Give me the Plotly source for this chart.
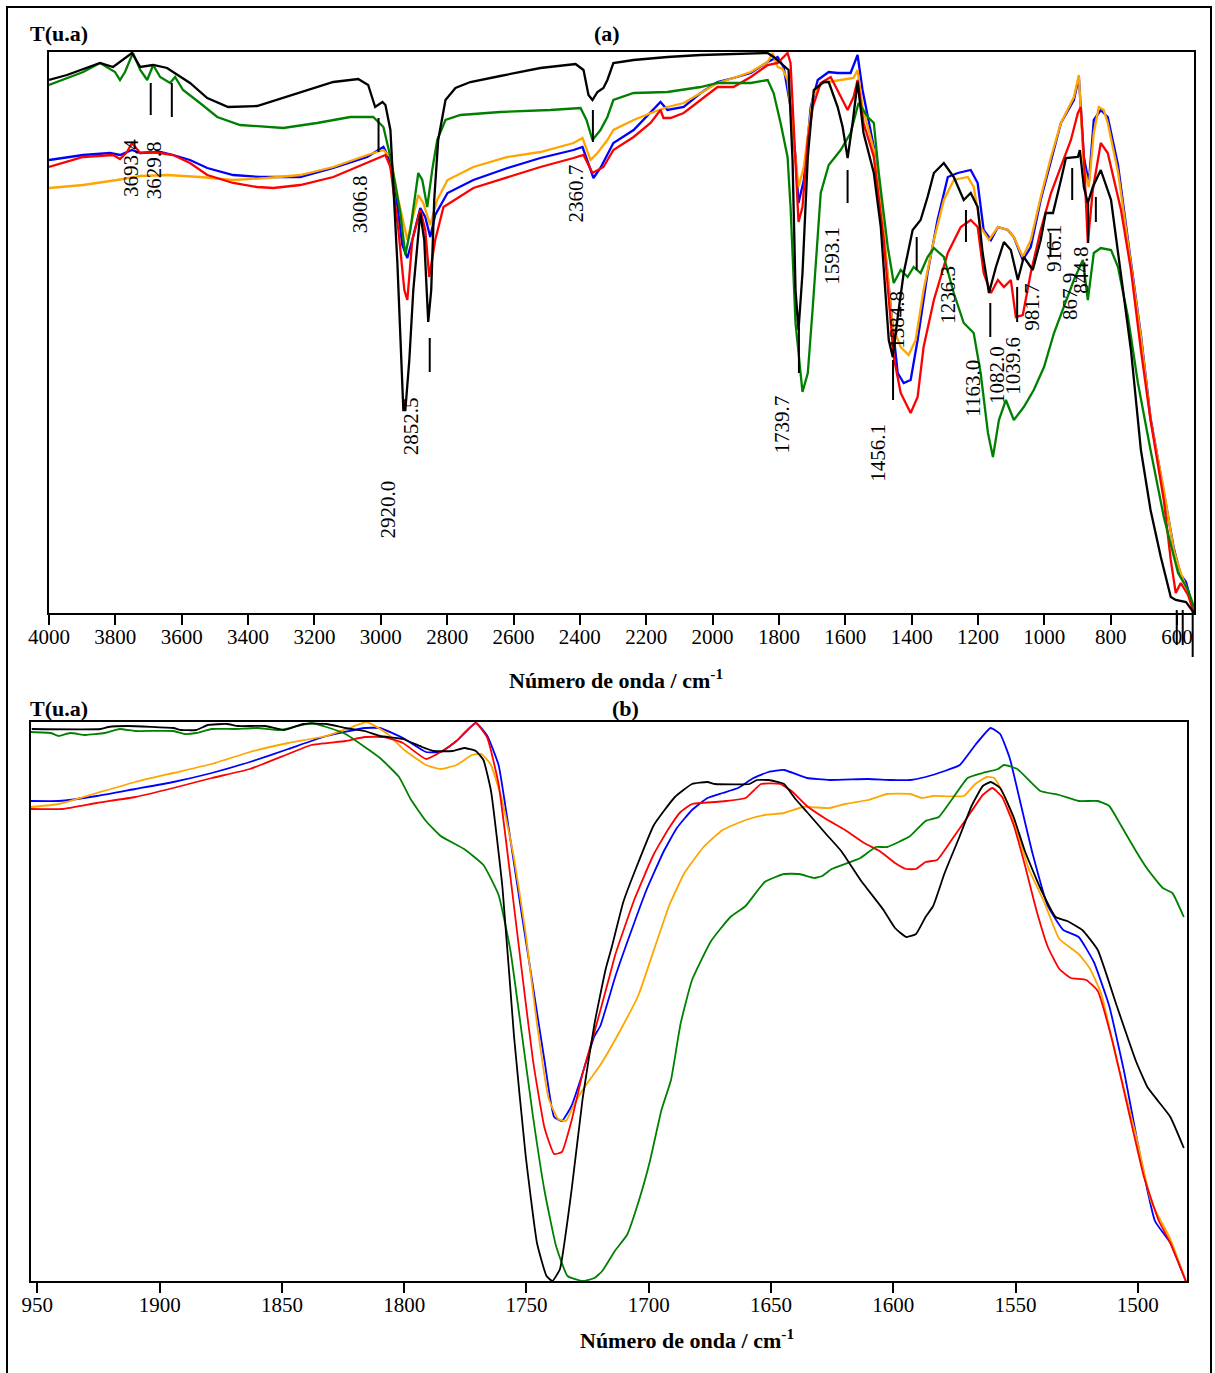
import plotly.graph_objects as go

# ---------------- Panel (a) data: wavenumber (cm-1) and T (arbitrary units) ----------------
a_black_wn = [4000, 3946, 3846, 3807, 3750, 3725, 3686, 3644, 3626, 3575, 3523, 3460, 3373, 3243, 3143, 3068, 3038, 3017, 2995, 2986, 2971, 2950, 2932, 2926, 2914, 2902, 2881, 2869, 2857, 2848, 2839, 2827, 2805, 2775, 2730, 2640, 2519, 2413, 2389, 2374, 2362, 2347, 2329, 2317, 2299, 2238, 2136, 2036, 1916, 1834, 1816, 1789, 1771, 1759, 1750, 1741, 1729, 1713, 1695, 1665, 1650, 1623, 1608, 1593, 1578, 1563, 1545, 1514, 1493, 1469, 1457, 1442, 1424, 1397, 1373, 1352, 1333, 1303, 1273, 1243, 1222, 1201, 1186, 1167, 1146, 1122, 1101, 1080, 1062, 1035, 1011, 996, 974, 950, 935, 899, 893, 881, 869, 854, 830, 799, 769, 739, 709, 680, 649, 619, 604, 573, 549]
a_black_t = [533, 538, 550, 546, 560, 546, 548, 545, 541, 530, 515, 506, 507, 521, 531, 534, 528, 506, 511, 508, 483, 350, 203, 203, 253, 323, 400, 373, 291, 323, 413, 473, 513, 525, 531, 537, 545, 549, 543, 518, 513, 521, 525, 533, 550, 553, 556, 558, 559, 560, 556, 548, 543, 453, 323, 283, 340, 456, 523, 531, 531, 506, 486, 455, 490, 531, 480, 440, 386, 273, 256, 296, 340, 383, 393, 416, 440, 450, 436, 413, 420, 406, 360, 320, 346, 371, 363, 333, 356, 343, 373, 400, 400, 433, 455, 456, 463, 426, 410, 426, 443, 413, 336, 263, 163, 103, 56, 16, 13, 11, 0]

a_green_wn = [4000, 3897, 3846, 3801, 3786, 3771, 3747, 3725, 3704, 3686, 3665, 3635, 3620, 3596, 3545, 3493, 3424, 3294, 3192, 3092, 3023, 2992, 2971, 2941, 2926, 2911, 2887, 2875, 2860, 2845, 2830, 2805, 2760, 2640, 2489, 2398, 2380, 2362, 2338, 2317, 2299, 2238, 2136, 2036, 1985, 1885, 1834, 1816, 1795, 1774, 1765, 1750, 1729, 1713, 1698, 1674, 1650, 1614, 1584, 1560, 1532, 1514, 1499, 1472, 1454, 1433, 1412, 1394, 1373, 1352, 1333, 1303, 1273, 1243, 1213, 1192, 1170, 1155, 1137, 1116, 1092, 1062, 1032, 1001, 971, 941, 911, 884, 869, 851, 830, 799, 778, 748, 718, 680, 640, 597, 567, 549]
a_green_t = [528, 541, 550, 541, 533, 541, 560, 543, 533, 548, 536, 530, 536, 523, 510, 496, 488, 485, 490, 496, 496, 486, 456, 400, 358, 383, 440, 433, 406, 443, 473, 493, 498, 501, 503, 505, 493, 473, 483, 496, 513, 520, 521, 526, 530, 530, 533, 520, 490, 456, 406, 290, 221, 240, 306, 420, 448, 463, 480, 510, 496, 490, 440, 366, 330, 343, 336, 346, 340, 356, 365, 356, 320, 290, 280, 240, 180, 156, 193, 213, 193, 206, 223, 246, 280, 306, 333, 353, 313, 360, 365, 363, 346, 296, 230, 163, 96, 40, 23, 6]

a_blue_wn = [4000, 3897, 3816, 3786, 3750, 3725, 3665, 3626, 3575, 3523, 3445, 3364, 3243, 3143, 3041, 2992, 2977, 2956, 2935, 2920, 2905, 2881, 2866, 2851, 2836, 2799, 2721, 2618, 2519, 2419, 2392, 2374, 2359, 2338, 2299, 2238, 2187, 2157, 2136, 2087, 2036, 1985, 1937, 1885, 1834, 1804, 1786, 1765, 1750, 1741, 1725, 1704, 1683, 1650, 1623, 1584, 1563, 1548, 1514, 1493, 1463, 1442, 1424, 1403, 1382, 1352, 1322, 1291, 1261, 1222, 1201, 1183, 1161, 1140, 1110, 1092, 1065, 1041, 1011, 980, 950, 911, 896, 881, 866, 851, 830, 809, 778, 748, 709, 680, 640, 610, 589, 573, 549]
a_blue_t = [453, 458, 460, 458, 463, 460, 461, 458, 453, 445, 438, 436, 436, 445, 456, 466, 456, 423, 368, 355, 373, 405, 396, 376, 398, 420, 433, 445, 455, 463, 466, 448, 435, 445, 470, 483, 500, 511, 503, 506, 520, 531, 535, 540, 551, 556, 546, 506, 456, 410, 433, 506, 533, 541, 540, 540, 558, 523, 466, 406, 306, 240, 230, 233, 273, 340, 393, 436, 440, 443, 430, 383, 373, 386, 383, 376, 353, 366, 413, 453, 490, 513, 536, 456, 430, 493, 503, 496, 448, 373, 278, 195, 123, 65, 38, 31, 0]

a_red_wn = [4000, 3897, 3807, 3786, 3765, 3750, 3725, 3695, 3665, 3626, 3575, 3523, 3445, 3373, 3324, 3243, 3143, 3041, 2986, 2971, 2947, 2929, 2920, 2905, 2881, 2866, 2854, 2836, 2811, 2721, 2618, 2519, 2419, 2389, 2362, 2329, 2299, 2238, 2187, 2157, 2148, 2127, 2087, 2036, 1985, 1937, 1885, 1834, 1804, 1786, 1774, 1765, 1756, 1741, 1729, 1713, 1698, 1674, 1644, 1623, 1593, 1575, 1563, 1545, 1514, 1484, 1454, 1433, 1403, 1382, 1364, 1333, 1291, 1252, 1222, 1201, 1183, 1161, 1140, 1122, 1101, 1086, 1065, 1041, 1011, 980, 950, 920, 899, 890, 881, 869, 854, 830, 809, 769, 739, 709, 680, 640, 619, 604, 589, 567, 549]
a_red_t = [446, 456, 458, 454, 461, 470, 460, 461, 460, 458, 450, 438, 430, 426, 425, 428, 436, 450, 458, 446, 383, 323, 313, 373, 403, 383, 336, 373, 406, 425, 436, 446, 455, 458, 440, 446, 463, 476, 490, 503, 495, 495, 500, 513, 526, 526, 536, 548, 550, 556, 560, 550, 490, 391, 406, 473, 506, 530, 536, 523, 503, 516, 533, 490, 456, 373, 256, 220, 200, 216, 266, 313, 360, 386, 393, 386, 340, 320, 333, 326, 333, 296, 298, 340, 383, 420, 446, 473, 500, 506, 456, 370, 423, 470, 460, 403, 343, 263, 193, 113, 53, 20, 30, 18, 0]

a_orange_wn = [4000, 3897, 3795, 3725, 3644, 3545, 3445, 3342, 3243, 3143, 3041, 2992, 2971, 2947, 2920, 2905, 2887, 2872, 2851, 2830, 2799, 2721, 2618, 2519, 2419, 2392, 2368, 2347, 2317, 2299, 2238, 2178, 2136, 2087, 2036, 1985, 1937, 1885, 1834, 1819, 1804, 1789, 1774, 1756, 1741, 1725, 1698, 1674, 1650, 1614, 1575, 1563, 1548, 1514, 1484, 1457, 1433, 1409, 1388, 1364, 1333, 1303, 1273, 1231, 1213, 1192, 1167, 1140, 1110, 1092, 1065, 1041, 1011, 980, 950, 911, 896, 881, 866, 851, 836, 821, 809, 778, 748, 709, 680, 640, 610, 589, 567, 549]
a_orange_t = [425, 428, 433, 437, 438, 436, 433, 435, 438, 446, 458, 463, 456, 413, 373, 393, 418, 410, 388, 413, 433, 446, 456, 461, 470, 475, 453, 460, 473, 483, 493, 501, 506, 510, 520, 530, 535, 541, 551, 560, 546, 544, 533, 473, 426, 446, 516, 530, 531, 533, 535, 543, 506, 463, 380, 286, 266, 258, 273, 323, 373, 413, 433, 436, 426, 386, 373, 386, 383, 376, 356, 373, 416, 456, 490, 516, 538, 446, 426, 480, 506, 503, 490, 441, 370, 276, 193, 123, 63, 40, 21, 0]

# Peak labels of panel (a): text, label position (wn, T) and marker line (wn, T_top, T_bottom)
peak_text = ["3693.4", "3629.8", "3006.8", "2920.0", "2852.5", "2360.7", "1739.7", "1593.1", "1456.1",
             "1384.8", "1236.3", "1163.0", "1082.0", "1039.6", "981.7", "916.1", "867.9", "844.8"]
peak_label_wn = [3753, 3683, 3062, 2977, 2908, 2413, 1792, 1641, 1502, 1445, 1291, 1216, 1143, 1095, 1038, 971, 923, 890]
peak_label_t = [445, 443, 409, 104, 187, 419, 188, 357, 160, 293, 318, 225, 238, 247, 306, 365, 317, 343]
mark_wn = [3693.4, 3629.8, 3006.8, 2852.5, 2360.7, 1739.7, 1593.1, 1456.1, 1384.8, 1236.3, 1163.0, 1082.0, 981.7, 916.1, 867.9, 844.8]
mark_top = [530, 530, 495, 275, 503, 286, 443, 253, 376, 403, 310, 326, 380, 445, 410, 416]
mark_bot = [498, 496, 461, 241, 471, 240, 410, 213, 343, 371, 276, 291, 356, 413, 370, 391]
# marker lines crossing the bottom axis near 600 cm-1
low_mark_wn = [601, 583, 553]
low_mark_top = [3, 3, 3]
low_mark_bot = [-32, -32, -44]

a_ticks = list(range(4000, 599, -200))

# ---------------- Panel (b) data ----------------
b_black_wn = [1952.3, 1924.1, 1921.0, 1913.1, 1894.4, 1891.2, 1885.0, 1880.3, 1872.5, 1867.8, 1856.8, 1849.0, 1841.2, 1831.8, 1824.0, 1816.1, 1809.9, 1800.5, 1792.7, 1788.0, 1780.1, 1775.5, 1770.7, 1767.6, 1764.5, 1759.8, 1755.1, 1750.4, 1745.7, 1741.8, 1739.4, 1736.3, 1731.6, 1727.0, 1722.2, 1717.6, 1715.1, 1710.4, 1704.2, 1697.9, 1689.3, 1682.3, 1676.0, 1672.9, 1658.8, 1655.7, 1651.0, 1644.7, 1640.0, 1635.3, 1627.5, 1621.3, 1613.4, 1604.0, 1599.3, 1594.7, 1590.7, 1586.8, 1583.7, 1579.0, 1572.8, 1568.0, 1563.4, 1560.2, 1556.3, 1550.8, 1546.2, 1539.9, 1533.6, 1528.9, 1522.7, 1516.4, 1508.6, 1500.8, 1496.1, 1491.4, 1486.7, 1481.2]
b_black_t = [552, 552, 554, 555, 553, 551, 551, 556, 557, 555, 555, 551, 557, 557, 553, 550, 545, 542, 534, 530, 530, 533, 530, 521, 490, 393, 245, 127, 38, 5, 0, 12, 90, 183, 257, 312, 334, 379, 419, 456, 484, 497, 499, 497, 497, 501, 501, 497, 482, 469, 447, 430, 401, 371, 353, 344, 347, 364, 375, 408, 445, 475, 495, 499, 493, 464, 430, 393, 364, 360, 351, 331, 275, 220, 194, 179, 164, 133]

b_green_wn = [1952.6, 1944.4, 1941.3, 1936.6, 1930.3, 1922.5, 1916.3, 1910.0, 1894.4, 1889.7, 1885.0, 1878.7, 1869.3, 1860.0, 1850.6, 1838.0, 1831.8, 1824.0, 1816.1, 1809.9, 1802.1, 1797.4, 1791.1, 1785.1, 1775.5, 1767.6, 1761.4, 1756.6, 1752.0, 1747.3, 1742.6, 1737.9, 1733.2, 1727.0, 1722.2, 1719.0, 1713.6, 1708.9, 1704.2, 1699.5, 1694.8, 1690.9, 1687.0, 1682.3, 1674.5, 1666.6, 1660.4, 1652.6, 1644.7, 1638.5, 1632.2, 1629.1, 1625.2, 1613.4, 1607.2, 1602.5, 1593.1, 1586.8, 1581.4, 1575.9, 1569.6, 1563.4, 1557.1, 1554.8, 1549.3, 1539.9, 1532.1, 1524.2, 1516.4, 1511.7, 1507.0, 1500.8, 1496.1, 1489.8, 1485.9, 1481.2]
b_green_t = [549, 548, 545, 548, 546, 548, 552, 550, 550, 547, 548, 552, 552, 553, 551, 558, 554, 547, 534, 523, 504, 482, 460, 445, 432, 416, 386, 331, 249, 164, 90, 35, 5, 0, 3, 10, 31, 46, 79, 120, 171, 201, 257, 301, 340, 364, 375, 399, 407, 407, 403, 405, 412, 423, 434, 434, 445, 460, 464, 482, 503, 508, 512, 516, 512, 490, 486, 480, 480, 475, 456, 430, 412, 393, 388, 364]

b_blue_wn = [1952.6, 1941.3, 1925.7, 1910.0, 1894.4, 1878.7, 1863.1, 1847.4, 1831.8, 1816.1, 1809.9, 1800.5, 1791.1, 1785.1, 1778.6, 1770.7, 1766.0, 1761.4, 1756.6, 1752.0, 1747.3, 1742.6, 1738.7, 1735.5, 1731.6, 1727.0, 1722.2, 1719.8, 1713.6, 1707.3, 1701.1, 1694.0, 1688.5, 1682.3, 1676.0, 1669.8, 1663.5, 1657.2, 1651.0, 1644.7, 1635.3, 1626.0, 1610.3, 1600.9, 1593.1, 1586.8, 1579.0, 1572.8, 1566.5, 1560.2, 1556.3, 1552.4, 1547.7, 1543.0, 1536.8, 1530.5, 1524.2, 1518.0, 1511.7, 1505.5, 1499.2, 1493.0, 1486.7, 1480.4]
b_blue_t = [480, 480, 485, 492, 499, 508, 519, 532, 545, 553, 553, 543, 529, 529, 540, 558, 545, 516, 442, 368, 294, 220, 164, 160, 175, 208, 245, 255, 305, 349, 390, 429, 453, 471, 483, 488, 493, 503, 509, 511, 503, 501, 502, 501, 501, 504, 510, 516, 536, 553, 547, 523, 475, 427, 375, 351, 344, 319, 275, 208, 127, 60, 38, 0]

b_red_wn = [1952.6, 1939.7, 1925.7, 1910.0, 1894.4, 1878.7, 1863.1, 1847.4, 1838.0, 1824.0, 1816.1, 1808.3, 1800.5, 1791.1, 1785.1, 1778.6, 1770.7, 1766.0, 1761.4, 1756.6, 1752.0, 1747.3, 1742.6, 1738.7, 1735.5, 1731.6, 1727.0, 1722.2, 1716.0, 1713.6, 1705.8, 1697.9, 1691.7, 1687.0, 1682.3, 1672.9, 1668.2, 1660.4, 1654.1, 1646.3, 1641.6, 1635.3, 1627.5, 1619.7, 1611.9, 1605.6, 1599.3, 1594.7, 1590.7, 1586.8, 1582.1, 1575.9, 1569.6, 1563.4, 1559.5, 1555.5, 1550.8, 1546.2, 1541.5, 1536.8, 1532.1, 1527.4, 1521.1, 1516.4, 1510.2, 1503.9, 1497.6, 1491.4, 1486.7, 1480.4]
b_red_t = [472, 472, 478, 484, 493, 503, 512, 527, 536, 540, 544, 544, 538, 522, 529, 540, 558, 543, 497, 405, 312, 220, 153, 127, 129, 160, 208, 249, 305, 327, 382, 427, 453, 469, 477, 479, 480, 483, 497, 497, 490, 475, 462, 451, 438, 430, 418, 412, 412, 419, 421, 442, 464, 486, 493, 484, 456, 416, 371, 334, 312, 303, 301, 290, 238, 171, 105, 60, 38, 0]

b_orange_wn = [1952.6, 1941.3, 1925.7, 1910.0, 1894.4, 1878.7, 1863.1, 1847.4, 1831.8, 1822.4, 1815.3, 1806.7, 1800.5, 1791.1, 1785.1, 1778.6, 1772.3, 1768.4, 1764.5, 1759.8, 1755.1, 1750.4, 1745.7, 1741.0, 1737.1, 1733.9, 1730.0, 1725.4, 1719.8, 1712.0, 1704.2, 1697.9, 1691.7, 1685.4, 1677.6, 1669.8, 1660.4, 1652.6, 1644.7, 1636.9, 1626.0, 1619.7, 1610.3, 1602.5, 1593.1, 1588.4, 1583.7, 1571.2, 1566.5, 1561.8, 1558.7, 1554.0, 1549.3, 1544.6, 1538.3, 1532.1, 1524.2, 1519.5, 1514.8, 1508.6, 1500.8, 1494.5, 1486.7, 1480.4]
b_orange_t = [474, 477, 488, 499, 508, 517, 529, 538, 545, 553, 559, 547, 532, 516, 512, 516, 526, 527, 516, 479, 423, 349, 257, 183, 162, 160, 179, 197, 216, 249, 286, 331, 375, 408, 434, 451, 461, 466, 468, 474, 473, 477, 481, 487, 487, 483, 485, 485, 497, 504, 503, 482, 449, 412, 379, 342, 327, 312, 286, 220, 146, 79, 42, 0]

b_tickvals = [1950, 1900, 1850, 1800, 1750, 1700, 1650, 1600, 1550, 1500]
b_ticktext = ["950", "1900", "1850", "1800", "1750", "1700", "1650", "1600", "1550", "1500"]

# ---------------- Layout geometry ----------------
W, H = 1215, 1373
FONT = "Liberation Serif"
A_XR = [4000, 549]
A_YR = [0, 561]
B_XR = [1952.6, 1479.9]
B_YR = [0, 559]
A_XD = [49 / W, 1194 / W]
A_YD = [1 - 613 / H, 1 - 52 / H]
B_XD = [31 / W, 1187 / W]
B_YD = [1 - 1281 / H, 1 - 722 / H]


def to_paper(v, rng, dom):
    return dom[0] + (v - rng[0]) / (rng[1] - rng[0]) * (dom[1] - dom[0])


COLORS = {"blue": "#0000ff", "orange": "#ffa500", "red": "#ff0000", "green": "#008000", "black": "#000000"}

fig = go.Figure()
series_a = [("blue", a_blue_wn, a_blue_t), ("orange", a_orange_wn, a_orange_t), ("red", a_red_wn, a_red_t),
            ("green", a_green_wn, a_green_t), ("black", a_black_wn, a_black_t)]
for name, xs, ys in series_a:
    fig.add_trace(go.Scatter(x=xs, y=ys, mode="lines", line=dict(color=COLORS[name], width=2.3),
                             xaxis="x", yaxis="y", showlegend=False, hoverinfo="skip"))
series_b = [("blue", b_blue_wn, b_blue_t), ("orange", b_orange_wn, b_orange_t), ("red", b_red_wn, b_red_t),
            ("green", b_green_wn, b_green_t), ("black", b_black_wn, b_black_t)]
for name, xs, ys in series_b:
    fig.add_trace(go.Scatter(x=xs, y=ys, mode="lines", line=dict(color=COLORS[name], width=1.8, shape="spline", smoothing=0.4),
                             xaxis="x2", yaxis="y2", showlegend=False, hoverinfo="skip"))

shapes = []
for wn, t0, t1 in zip(mark_wn, mark_top, mark_bot):
    shapes.append(dict(type="line", xref="x", yref="y", x0=wn, x1=wn, y0=t0, y1=t1,
                       line=dict(color="black", width=2)))
for wn, t0, t1 in zip(low_mark_wn, low_mark_top, low_mark_bot):
    xp = to_paper(wn, A_XR, A_XD)
    shapes.append(dict(type="line", xref="paper", yref="paper", x0=xp, x1=xp,
                       y0=to_paper(t0, A_YR, A_YD), y1=to_paper(t1, A_YR, A_YD),
                       line=dict(color="black", width=2)))
# outer frame
shapes.append(dict(type="rect", xref="paper", yref="paper", x0=7 / W, x1=1211 / W, y0=-0.02, y1=1 - 7 / H,
                   line=dict(color="black", width=2), fillcolor="rgba(0,0,0,0)"))

annotations = []
for txt, wn, t in zip(peak_text, peak_label_wn, peak_label_t):
    annotations.append(dict(x=wn, y=t, xref="x", yref="y", text=txt, textangle=-90, showarrow=False,
                            xanchor="center", yanchor="middle", font=dict(family=FONT, size=21, color="black")))

bold = dict(family=FONT, size=22, color="black")
annotations += [
    dict(x=28 / W, y=1 - 33 / H, xref="paper", yref="paper", text="<b>T(u.a)</b>", showarrow=False,
         xanchor="left", yanchor="middle", font=bold),
    dict(x=607 / W, y=1 - 33 / H, xref="paper", yref="paper", text="<b>(a)</b>", showarrow=False,
         xanchor="center", yanchor="middle", font=bold),
    dict(x=616 / W, y=1 - 679 / H, xref="paper", yref="paper", text="<b>Número de onda / cm<sup>-1</sup></b>",
         showarrow=False, xanchor="center", yanchor="middle", font=bold),
    dict(x=28 / W, y=1 - 708 / H, xref="paper", yref="paper", text="<b>T(u.a)</b>", showarrow=False,
         xanchor="left", yanchor="middle", font=bold),
    dict(x=625 / W, y=1 - 708 / H, xref="paper", yref="paper", text="<b>(b)</b>", showarrow=False,
         xanchor="center", yanchor="middle", font=bold),
    dict(x=687 / W, y=1 - 1339 / H, xref="paper", yref="paper", text="<b>Número de onda / cm<sup>-1</sup></b>",
         showarrow=False, xanchor="center", yanchor="middle", font=bold),
]

axis_common = dict(showgrid=False, zeroline=False, showline=True, mirror=True, linecolor="black", linewidth=2,
                   automargin=False)
tickfont = dict(family=FONT, size=21, color="black")

fig.update_layout(
    width=W, height=H, margin=dict(l=0, r=0, t=0, b=0, pad=0, autoexpand=False),
    paper_bgcolor="white", plot_bgcolor="white", showlegend=False,
    xaxis=dict(domain=A_XD, range=A_XR, anchor="y", tickvals=a_ticks, ticks="outside", ticklen=10, tickwidth=2,
               tickcolor="black", tickfont=tickfont, ticklabelstandoff=-6, **axis_common),
    yaxis=dict(domain=A_YD, range=A_YR, anchor="x", showticklabels=False, ticks="", **axis_common),
    xaxis2=dict(domain=B_XD, range=B_XR, anchor="y2", tickvals=b_tickvals, ticktext=b_ticktext, ticks="outside",
                ticklen=10, tickwidth=2, tickcolor="black", tickfont=tickfont, ticklabelstandoff=-6, **axis_common),
    yaxis2=dict(domain=B_YD, range=B_YR, anchor="x2", showticklabels=False, ticks="", **axis_common),
    shapes=shapes, annotations=annotations,
)

fig.write_html("out.html", config={"displayModeBar": False},
               post_script="document.body.style.margin='0px';")
